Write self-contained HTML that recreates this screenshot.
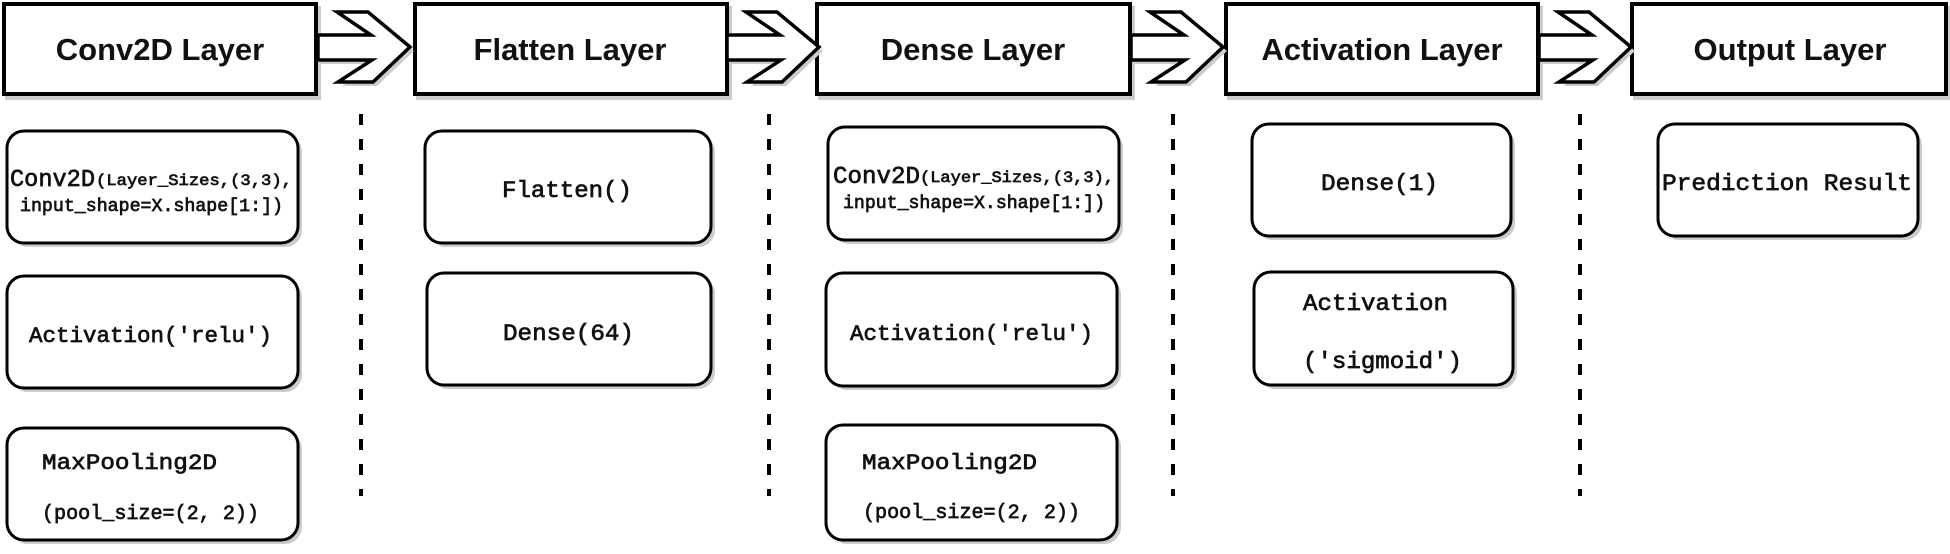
<!DOCTYPE html>
<html><head><meta charset="utf-8"><style>
html,body{margin:0;padding:0;background:#fff;}
svg{display:block;}
.h{font-family:"Liberation Sans",sans-serif;font-weight:bold;font-size:31px;fill:#111;}
.m{font-family:"Liberation Mono",monospace;fill:#111;stroke:#111;stroke-width:0.7px;}
</style></head><body>
<svg width="1950" height="554" viewBox="0 0 1950 554" xmlns="http://www.w3.org/2000/svg">
<defs>
<g id="arr">
<polygon points="3,39 56,39 23,16 54,16 96,51 59,86 24,86 58,64 3,64" fill="#ccc"/>
<polygon points="0,35 53,35 19,12 50,12 92,47 55,82 20,82 54,60 0,60" fill="#fff" stroke="#000" stroke-width="3.5" stroke-linejoin="miter"/>
</g>
</defs>
<g fill="#fff" stroke="#000" stroke-width="4">
<rect x="4" y="4" width="312" height="90" fill="none" stroke="#ccc" transform="translate(3,4)"/>
<rect x="415" y="4" width="312" height="90" fill="none" stroke="#ccc" transform="translate(3,4)"/>
<rect x="817" y="4" width="313" height="90" fill="none" stroke="#ccc" transform="translate(3,4)"/>
<rect x="1226" y="4" width="312" height="90" fill="none" stroke="#ccc" transform="translate(3,4)"/>
<rect x="1632" y="4" width="314" height="90" fill="none" stroke="#ccc" transform="translate(3,4)"/>
<rect x="4" y="4" width="312" height="90"/>
<rect x="415" y="4" width="312" height="90"/>
<rect x="817" y="4" width="313" height="90"/>
<rect x="1226" y="4" width="312" height="90"/>
<rect x="1632" y="4" width="314" height="90"/>
</g>
<use href="#arr" x="318" y="0"/>
<use href="#arr" x="727" y="0"/>
<use href="#arr" x="1131" y="0"/>
<use href="#arr" x="1539" y="0"/>
<text class="h" x="160" y="60" text-anchor="middle">Conv2D Layer</text>
<text class="h" x="570" y="60" text-anchor="middle">Flatten Layer</text>
<text class="h" x="973" y="60" text-anchor="middle">Dense Layer</text>
<text class="h" x="1382" y="60" text-anchor="middle">Activation Layer</text>
<text class="h" x="1790" y="60" text-anchor="middle">Output Layer</text>
<g stroke="#000" stroke-width="4" stroke-dasharray="11 14">
<line x1="361" y1="114" x2="361" y2="496"/>
<line x1="769" y1="114" x2="769" y2="496"/>
<line x1="1173" y1="114" x2="1173" y2="496"/>
<line x1="1580" y1="114" x2="1580" y2="496"/>
</g>
<g fill="#ccc" stroke="none">
<rect x="11" y="135" width="291" height="112" rx="17"/>
<rect x="11" y="280" width="291" height="112" rx="17"/>
<rect x="11" y="432" width="291" height="112" rx="17"/>
<rect x="429" y="135" width="286" height="112" rx="17"/>
<rect x="431" y="277" width="284" height="112" rx="17"/>
<rect x="832" y="131" width="291" height="113" rx="17"/>
<rect x="830" y="277" width="291" height="113" rx="17"/>
<rect x="830" y="429" width="291" height="115" rx="17"/>
<rect x="1256" y="128" width="259" height="112" rx="17"/>
<rect x="1258" y="276" width="259" height="113" rx="17"/>
<rect x="1662" y="128" width="260" height="112" rx="17"/>
</g>
<g fill="#fff" stroke="#000" stroke-width="3">
<rect x="7" y="131" width="291" height="112" rx="17"/>
<rect x="7" y="276" width="291" height="112" rx="17"/>
<rect x="7" y="428" width="291" height="112" rx="17"/>
<rect x="425" y="131" width="286" height="112" rx="17"/>
<rect x="427" y="273" width="284" height="112" rx="17"/>
<rect x="828" y="127" width="291" height="113" rx="17"/>
<rect x="826" y="273" width="291" height="113" rx="17"/>
<rect x="826" y="425" width="291" height="115" rx="17"/>
<rect x="1252" y="124" width="259" height="112" rx="17"/>
<rect x="1254" y="272" width="259" height="113" rx="17"/>
<rect x="1658" y="124" width="260" height="112" rx="17"/>
</g>
<text class="m" x="10" y="186" font-size="24" textLength="85" lengthAdjust="spacingAndGlyphs">Conv2D</text>
<text class="m" x="96" y="185" font-size="16" textLength="196" lengthAdjust="spacingAndGlyphs">(Layer_Sizes,(3,3),</text>
<text class="m" x="20" y="211" font-size="18" textLength="263" lengthAdjust="spacingAndGlyphs">input_shape=X.shape[1:])</text>
<text class="m" x="29" y="342" font-size="22" textLength="243" lengthAdjust="spacingAndGlyphs">Activation('relu')</text>
<text class="m" x="42" y="469" font-size="22" textLength="175" lengthAdjust="spacingAndGlyphs">MaxPooling2D</text>
<text class="m" x="42" y="519" font-size="20" textLength="217" lengthAdjust="spacingAndGlyphs">(pool_size=(2, 2))</text>
<text class="m" x="502" y="197" font-size="23" textLength="130" lengthAdjust="spacingAndGlyphs">Flatten()</text>
<text class="m" x="503" y="340" font-size="23" textLength="131" lengthAdjust="spacingAndGlyphs">Dense(64)</text>
<text class="m" x="833" y="183" font-size="24" textLength="87" lengthAdjust="spacingAndGlyphs">Conv2D</text>
<text class="m" x="920" y="182" font-size="16" textLength="194" lengthAdjust="spacingAndGlyphs">(Layer_Sizes,(3,3),</text>
<text class="m" x="843" y="208" font-size="18" textLength="262" lengthAdjust="spacingAndGlyphs">input_shape=X.shape[1:])</text>
<text class="m" x="850" y="340" font-size="22" textLength="243" lengthAdjust="spacingAndGlyphs">Activation('relu')</text>
<text class="m" x="862" y="469" font-size="22" textLength="175" lengthAdjust="spacingAndGlyphs">MaxPooling2D</text>
<text class="m" x="863" y="518" font-size="20" textLength="217" lengthAdjust="spacingAndGlyphs">(pool_size=(2, 2))</text>
<text class="m" x="1321" y="190" font-size="23" textLength="117" lengthAdjust="spacingAndGlyphs">Dense(1)</text>
<text class="m" x="1303" y="310" font-size="23" textLength="145" lengthAdjust="spacingAndGlyphs">Activation</text>
<text class="m" x="1303" y="368" font-size="23" textLength="159" lengthAdjust="spacingAndGlyphs">('sigmoid')</text>
<text class="m" x="1662" y="190" font-size="23" textLength="250" lengthAdjust="spacingAndGlyphs">Prediction Result</text>
</svg>
</body></html>
